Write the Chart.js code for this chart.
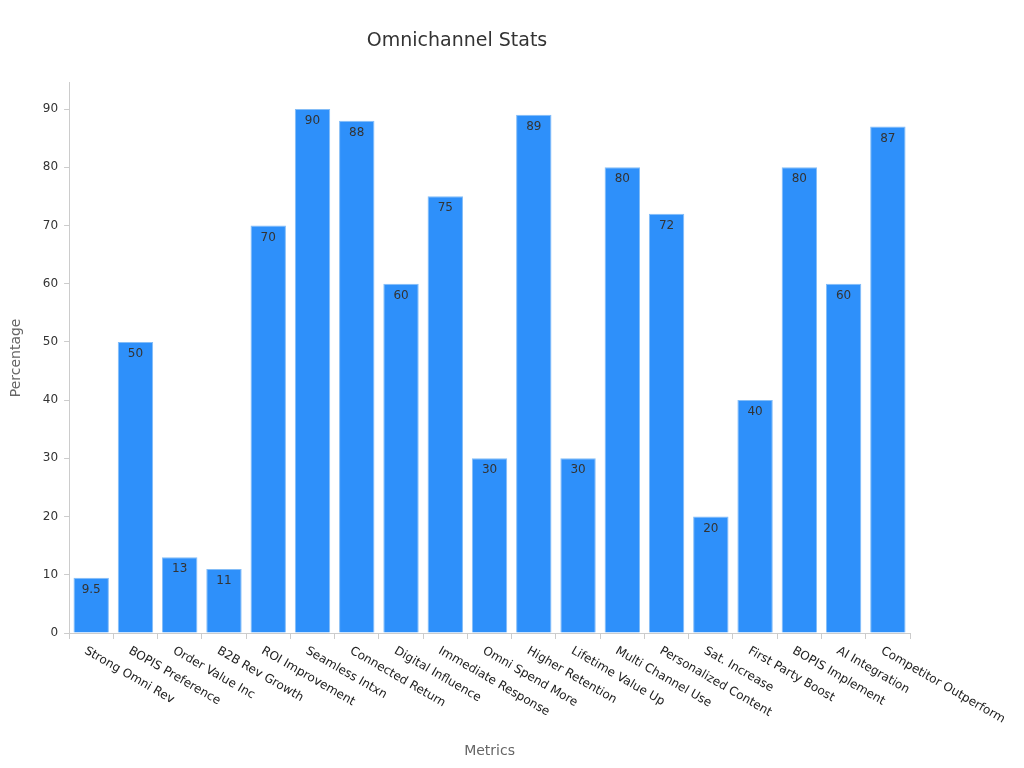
<!DOCTYPE html>
<html><head><meta charset="utf-8">
<script src="https://cdn.jsdelivr.net/npm/chart.js@4"></script>
<style>html,body{margin:0;padding:0;background:#fff}#w{width:1024px;height:768px}</style>
</head><body><div id="w"><canvas id="c"></canvas></div>
<script>
const categories = ["Strong Omni Rev","BOPIS Preference","Order Value Inc","B2B Rev Growth","ROI Improvement","Seamless Intxn","Connected Return","Digital Influence","Immediate Response","Omni Spend More","Higher Retention","Lifetime Value Up","Multi Channel Use","Personalized Content","Sat. Increase","First Party Boost","BOPIS Implement","AI Integration","Competitor Outperform"];
const values = [9.5,50,13,11,70,90,88,60,75,30,89,30,80,72,20,40,80,60,87];
const yTicks = [0,10,20,30,40,50,60,70,80,90];
const FONT = "'DejaVu Sans', sans-serif";

const overlay = {
  id:'overlay',
  afterDatasetsDraw(chart){
    const ctx = chart.ctx, xs = chart.scales.x, ca = chart.chartArea;
    const meta = chart.getDatasetMeta(0);
    ctx.save();
    ctx.font = "12px "+FONT; ctx.fillStyle = "#333"; ctx.textAlign="center"; ctx.textBaseline="top";
    meta.data.forEach((b,i)=>{ ctx.fillText(String(values[i]), b.x, b.y+6); });
    ctx.font = "12px "+FONT; ctx.fillStyle="#222"; ctx.textAlign="left"; ctx.textBaseline="middle";
    categories.forEach((c,i)=>{
      const x = xs.getPixelForTick(i);
      ctx.save(); ctx.translate(x-6, ca.bottom+17); ctx.rotate(30*Math.PI/180);
      ctx.fillText(c,0,0); ctx.restore();
    });
    ctx.font = "14px "+FONT; ctx.fillStyle="#666"; ctx.textAlign="center";
    ctx.fillText("Metrics", (ca.left+ca.right)/2, 751);
    ctx.restore();
  }
};

new Chart(document.getElementById('c'),{
  type:'bar',
  data:{labels:categories,datasets:[{data:values,backgroundColor:'#2e90fa',borderColor:'#84bdf7',borderWidth:1,barPercentage:0.8,categoryPercentage:1}]},
  options:{
    responsive:true,maintainAspectRatio:false,animation:false,
    layout:{padding:{top:10,right:114,bottom:129,left:4}},
    plugins:{legend:{display:false},tooltip:{enabled:false},
      title:{display:true,text:'Omnichannel Stats',color:'#333',font:{family:FONT,size:19,weight:'normal'},padding:{top:20,bottom:30}}},
    scales:{
      x:{ticks:{display:false},grid:{display:true,drawOnChartArea:false,color:'#ccc',tickLength:6},border:{color:'#ccc'}},
      y:{min:0,max:94.5,afterBuildTicks(s){s.ticks=yTicks.map(v=>({value:v}));},
        ticks:{color:'#333',font:{family:FONT,size:12},padding:6},
        grid:{display:true,drawOnChartArea:false,color:'#ccc',tickLength:5},border:{color:'#ccc'},
        title:{display:true,text:'Percentage',color:'#666',font:{family:FONT,size:14},padding:{bottom:12}}}
    }
  },
  plugins:[overlay]
});
</script></body></html>
